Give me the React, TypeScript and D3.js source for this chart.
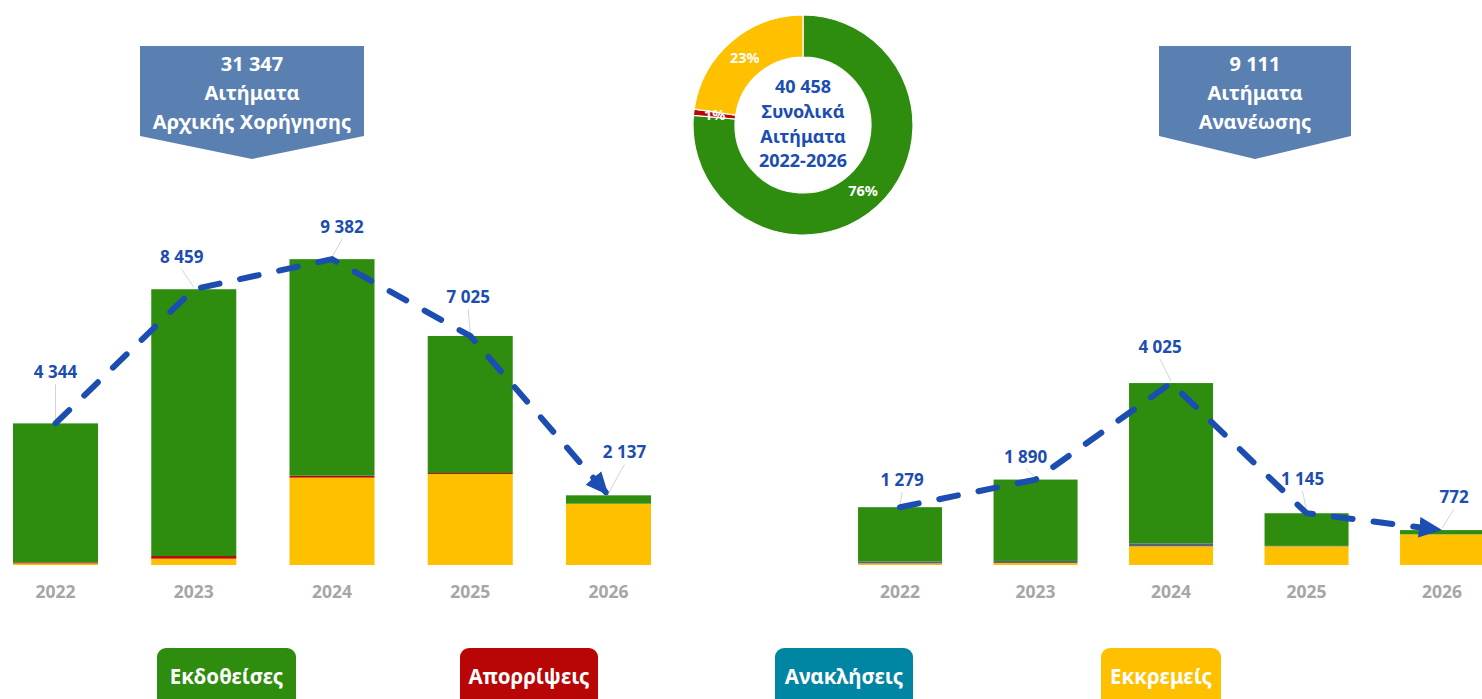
import React from "react";
import * as d3 from "d3";

// ---------- DATA ----------
const years = ["2022", "2023", "2024", "2025", "2026"];

// Αιτήματα Αρχικής Χορήγησης
const initialIssued = [4264, 8184, 6642, 4205, 257];
const initialRejected = [30, 80, 60, 30, 0];
const initialRevoked = [0, 0, 0, 0, 0];
const initialPending = [50, 195, 2680, 2790, 1880];

// Αιτήματα Ανανέωσης
const renewalIssued = [1199, 1800, 3546, 722, 94];
const renewalRejected = [45, 45, 66, 10, 0];
const renewalRevoked = [0, 0, 0, 0, 0];
const renewalPending = [35, 45, 413, 413, 678];

const seriesNames = ["Εκδοθείσες", "Απορρίψεις", "Ανακλήσεις", "Εκκρεμείς"];

const initialTitle = ["Αιτήματα", "Αρχικής Χορήγησης"];
const renewalTitle = ["Αιτήματα", "Ανανέωσης"];
const donutTitle = ["Συνολικά", "Αιτήματα", "2022-2026"];

// ---------- STYLE ----------
const W = 1482;
const H = 699;
const FONT = "'Noto Sans', 'Open Sans', sans-serif";
const C_GREEN = "#2E8C0E";
const C_RED = "#B80606";
const C_TEAL = "#0085A3";
const C_YELLOW = "#FFC000";
const C_SLATE = "#56617B";
const C_BLUE = "#1C4DB0";
const C_BANNER = "#5A7FB1";
const C_AXIS = "#A6A6A6";

const fmt = (v: number) => d3.format(",")(v).replace(/,/g, " ");

type ChartCfg = {
  issued: number[];
  rejected: number[];
  revoked: number[];
  pending: number[];
  range: [number, number];
  padIn: number;
  yMax: number;
  yTop: number;
  rejectedColor: string;
  labelOffsets: [number, number][];
};

const baseY = 565;

const leftCfg: ChartCfg = {
  issued: initialIssued,
  rejected: initialRejected,
  revoked: initialRevoked,
  pending: initialPending,
  range: [-13.6, 677.6],
  padIn: 0.385,
  yMax: 10000,
  yTop: 565 - 326,
  rejectedColor: C_RED,
  labelOffsets: [
    [0, -51],
    [-12, -32],
    [10, -32],
    [-2, -39],
    [16, -43],
  ],
};

const rightCfg: ChartCfg = {
  issued: renewalIssued,
  rejected: renewalRejected,
  revoked: renewalRevoked,
  pending: renewalPending,
  range: [832.3, 1509.8],
  padIn: 0.38,
  yMax: 5000,
  yTop: 565 - 226,
  rejectedColor: C_SLATE,
  labelOffsets: [
    [2, -27],
    [-10, -23],
    [-11, -36],
    [-4, -34],
    [12, -33],
  ],
};

function StackChart({ cfg, id }: { cfg: ChartCfg; id: string }) {
  const x = d3
    .scaleBand<string>()
    .domain(years)
    .range(cfg.range)
    .paddingInner(cfg.padIn)
    .paddingOuter(cfg.padIn / 2);
  const y = d3.scaleLinear().domain([0, cfg.yMax]).range([baseY, cfg.yTop]);

  const rows = years.map((yr, i) => ({
    year: yr,
    pending: cfg.pending[i],
    revoked: cfg.revoked[i],
    rejected: cfg.rejected[i],
    issued: cfg.issued[i],
  }));
  const keys = ["pending", "revoked", "rejected", "issued"];
  const colors: Record<string, string> = {
    pending: C_YELLOW,
    revoked: C_TEAL,
    rejected: cfg.rejectedColor,
    issued: C_GREEN,
  };
  const stacked = d3.stack<any>().keys(keys)(rows);
  const totals = rows.map((r) => r.pending + r.revoked + r.rejected + r.issued);
  const pts: [number, number][] = years.map((yr, i) => [
    (x(yr) as number) + x.bandwidth() / 2,
    y(totals[i]),
  ]);
  const line = d3.line()(pts) as string;

  return (
    <g>
      <defs>
        <marker
          id={`arrow-${id}`}
          viewBox="0 0 10 10"
          refX="10"
          refY="5"
          markerWidth="23"
          markerHeight="23"
          markerUnits="userSpaceOnUse"
          orient="auto"
        >
          <path d="M0,0.5 L10,5 L0,9.5 Z" fill={C_BLUE} />
        </marker>
      </defs>
      {stacked.map((s) => (
        <g key={s.key} fill={colors[s.key]}>
          {s.map((d, i) => {
            const h = y(d[0]) - y(d[1]);
            if (h <= 0) return null;
            return (
              <rect
                key={i}
                x={x(years[i])}
                y={y(d[1])}
                width={x.bandwidth()}
                height={h}
              />
            );
          })}
        </g>
      ))}
      {years.map((yr) => (
        <text
          key={yr}
          x={(x(yr) as number) + x.bandwidth() / 2}
          y={592}
          dy="0.35em"
          textAnchor="middle"
          fontFamily={FONT}
          fontWeight="bold"
          fontSize={17.5}
          fill={C_AXIS}
        >
          {yr}
        </text>
      ))}
      {pts.map(([px, py], i) => {
        const [dx, dy] = cfg.labelOffsets[i];
        const tx = px + dx;
        const ty = py + dy;
        return (
          <g key={i}>
            <line
              x1={tx}
              y1={ty + 12}
              x2={px}
              y2={py - 2}
              stroke="#C8C8C8"
              strokeWidth={0.8}
            />
            <text
              x={tx}
              y={ty}
              dy="0.35em"
              textAnchor="middle"
              fontFamily={FONT}
              fontWeight="bold"
              fontSize={17}
              fill={C_BLUE}
            >
              {fmt(totals[i])}
            </text>
          </g>
        );
      })}
      <path
        d={line}
        fill="none"
        stroke={C_BLUE}
        strokeWidth={6}
        strokeDasharray="19 21"
        strokeLinecap="round"
        markerEnd={`url(#arrow-${id})`}
      />
    </g>
  );
}

function Banner({
  x0,
  x1,
  total,
  lines,
}: {
  x0: number;
  x1: number;
  total: number;
  lines: string[];
}) {
  const cx = (x0 + x1) / 2;
  const d = `M${x0},46 H${x1} V136 L${cx},159 L${x0},136 Z`;
  const rows = [fmt(total), ...lines];
  return (
    <g>
      <path d={d} fill={C_BANNER} />
      {rows.map((t, i) => (
        <text
          key={i}
          x={cx}
          y={64 + i * 29}
          dy="0.35em"
          textAnchor="middle"
          fontFamily={FONT}
          fontWeight="bold"
          fontSize={20}
          fill="#ffffff"
        >
          {t}
        </text>
      ))}
    </g>
  );
}

function Donut() {
  const cx = 803;
  const cy = 125;
  const values = [
    d3.sum(initialIssued) + d3.sum(renewalIssued),
    d3.sum(initialRejected) + d3.sum(renewalRejected),
    d3.sum(initialRevoked) + d3.sum(renewalRevoked),
    d3.sum(initialPending) + d3.sum(renewalPending),
  ];
  const colors = [C_GREEN, C_RED, C_TEAL, C_YELLOW];
  const total = d3.sum(values);
  const pie = d3.pie<number>().sort(null).value((v) => v)(values);
  const arc = d3.arc<any>().innerRadius(68).outerRadius(110);
  const labelArc = d3.arc<any>().innerRadius(89).outerRadius(89);
  const pct = d3.format(".0%");
  return (
    <g transform={`translate(${cx},${cy})`}>
      {pie.map((p, i) =>
        p.value > 0 ? (
          <path
            key={i}
            d={arc(p) as string}
            fill={colors[i]}
            stroke="#ffffff"
            strokeWidth={1.2}
          />
        ) : null
      )}
      {pie.map((p, i) => {
        if (p.value <= 0) return null;
        const [lx, ly] = labelArc.centroid(p);
        const share = p.value / total;
        const txt = share < 0.01 ? "1%" : pct(share);
        return (
          <text
            key={i}
            x={lx}
            y={ly}
            dy="0.35em"
            textAnchor="middle"
            fontFamily={FONT}
            fontWeight="bold"
            fontSize={14.5}
            fill="#ffffff"
          >
            {txt}
          </text>
        );
      })}
      {[fmt(total), ...donutTitle].map((t, i) => (
        <text
          key={i}
          x={0}
          y={-38 + i * 24.7}
          dy="0.35em"
          textAnchor="middle"
          fontFamily={FONT}
          fontWeight="bold"
          fontSize={18}
          fill={C_BLUE}
        >
          {t}
        </text>
      ))}
    </g>
  );
}

function Legend() {
  const boxes = [
    { x0: 157, x1: 296 },
    { x0: 460, x1: 598 },
    { x0: 775, x1: 913 },
    { x0: 1101, x1: 1221 },
  ];
  const colors = [C_GREEN, C_RED, C_TEAL, C_YELLOW];
  return (
    <g>
      {seriesNames.map((n, i) => (
        <g key={n}>
          <rect
            x={boxes[i].x0}
            y={648}
            width={boxes[i].x1 - boxes[i].x0}
            height={70}
            rx={9}
            fill={colors[i]}
          />
          <text
            x={(boxes[i].x0 + boxes[i].x1) / 2}
            y={677}
            dy="0.35em"
            textAnchor="middle"
            fontFamily={FONT}
            fontWeight="bold"
            fontSize={20.5}
            fill="#ffffff"
          >
            {n}
          </text>
        </g>
      ))}
    </g>
  );
}

export default function App() {
  return (
    <div style={{ position: "absolute", left: 0, top: 0, width: W, height: H }}>
      <svg width={W} height={H} style={{ display: "block", background: "#fff" }}>
        <StackChart cfg={leftCfg} id="l" />
        <StackChart cfg={rightCfg} id="r" />
        <Banner
          x0={140}
          x1={364}
          total={d3.sum(initialIssued) + d3.sum(initialRejected) + d3.sum(initialRevoked) + d3.sum(initialPending)}
          lines={initialTitle}
        />
        <Banner
          x0={1159}
          x1={1351}
          total={d3.sum(renewalIssued) + d3.sum(renewalRejected) + d3.sum(renewalRevoked) + d3.sum(renewalPending)}
          lines={renewalTitle}
        />
        <Donut />
        <Legend />
      </svg>
    </div>
  );
}
